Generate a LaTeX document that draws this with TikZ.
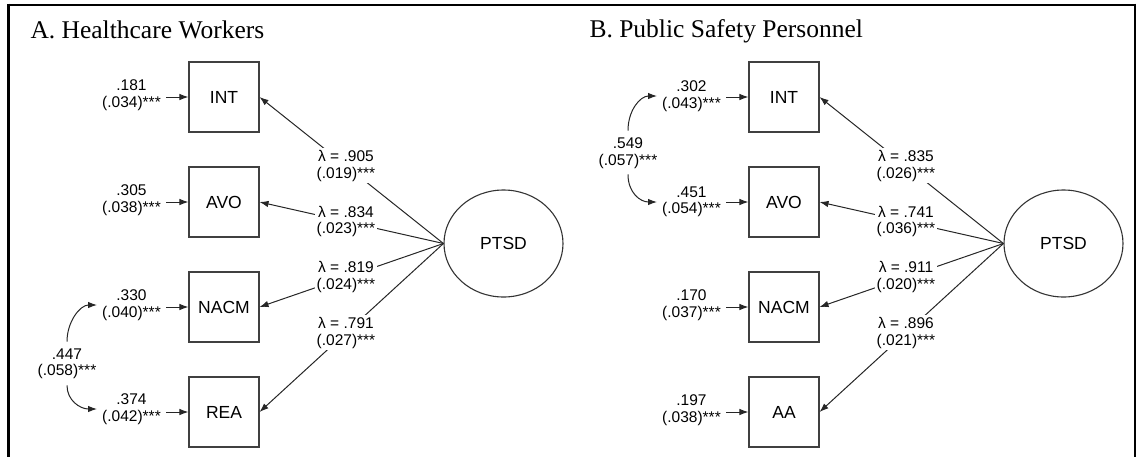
\documentclass[tikz,border=0pt]{standalone}
\usepackage{fontspec}
\setmainfont{Liberation Sans}
\newfontfamily\titlefont{Liberation Serif}
\usetikzlibrary{arrows.meta,shapes.geometric}

\begin{document}
\begin{tikzpicture}[x=1pt,y=-1pt,
  ind/.style={draw=black!75, line width=1.1pt, minimum width=70pt, minimum height=70pt,
    inner sep=0pt, font=\fontsize{17.5}{20}\selectfont},
  lat/.style={draw=black!80, line width=1.1pt, ellipse, minimum width=119pt,
    minimum height=107pt, inner sep=0pt, font=\fontsize{17.5}{20}\selectfont},
  est/.style={align=center, font=\fontsize{15.5}{16.5}\selectfont, inner ysep=1pt, inner xsep=5pt},
  load/.style={align=center, font=\fontsize{15.5}{16.5}\selectfont, fill=white, inner sep=2pt},
  arr/.style={draw=black!85, line width=1pt, -{Latex[length=9pt,width=6.5pt]}},
  ttl/.style={anchor=base west, font=\titlefont\fontsize{25.5}{27}\selectfont},
]
\useasboundingbox (0,0) rectangle (1136,456);

% frame (open at the bottom)
\draw[line width=2pt] (7.5,4.5) -- (1135,4.5);
\draw[line width=2.6pt] (8.5,3.5) -- (8.5,460);
\draw[line width=1.4pt] (1135,3.5) -- (1135,460);

% ---------------- A. Healthcare Workers ----------------
\node[ttl] (titleA) at (27,38) {A. Healthcare Workers};

\node[ind] (AINT)  at (224,97)  {INT};
\node[ind] (AAVO)  at (224,202) {AVO};
\node[ind] (ANACM) at (224,307) {NACM};
\node[ind] (AREA)  at (224,412) {REA};
\node[lat] (APTSD) at (503.5,243.5) {PTSD};

\draw[arr] (APTSD.west) -- node[load, pos=0.53] {λ = .905\\(.019)***} (AINT.east);
\draw[arr] (APTSD.west) -- node[load, pos=0.53] {λ = .834\\(.023)***} (AAVO.east);
\draw[arr] (APTSD.west) -- node[load, pos=0.53] {λ = .819\\(.024)***} (ANACM.east);
\draw[arr] (APTSD.west) -- node[load, pos=0.53] {λ = .791\\(.027)***} (AREA.east);

\node[est, anchor=east] (rAINT)  at (166,95)  {.181\\(.034)***};
\node[est, anchor=east] (rAAVO)  at (166,200) {.305\\(.038)***};
\node[est, anchor=east] (rANACM) at (166,305) {.330\\(.040)***};
\node[est, anchor=east] (rAREA)  at (166,409) {.374\\(.042)***};

\draw[arr] (rAINT.east |- AINT.west) -- (AINT.west);
\draw[arr] (rAAVO.east |- AAVO.west) -- (AAVO.west);
\draw[arr] (rANACM.east |- ANACM.west) -- (ANACM.west);
\draw[arr] (rAREA.east |- AREA.west) -- (AREA.west);

\node[est] (cA) at (67,364) {.447\\(.058)***};
\draw[arr] ([yshift=6pt]cA.north) .. controls +(0,-20) and +(-17,0) .. (rANACM.west);
\draw[arr] ([yshift=-5pt]cA.south) .. controls +(0,15) and +(-17,0) .. (rAREA.west);

% ---------------- B. Public Safety Personnel ----------------
\node[ttl] (titleB) at (586,37) {B. Public Safety Personnel};

\node[ind] (BINT)  at (784,97)  {INT};
\node[ind] (BAVO)  at (784,202) {AVO};
\node[ind] (BNACM) at (784,307) {NACM};
\node[ind] (BAA)   at (784,412) {AA};
\node[lat] (BPTSD) at (1063.5,243.5) {PTSD};

\draw[arr] (BPTSD.west) -- node[load, pos=0.53] {λ = .835\\(.026)***} (BINT.east);
\draw[arr] (BPTSD.west) -- node[load, pos=0.53] {λ = .741\\(.036)***} (BAVO.east);
\draw[arr] (BPTSD.west) -- node[load, pos=0.53] {λ = .911\\(.020)***} (BNACM.east);
\draw[arr] (BPTSD.west) -- node[load, pos=0.53] {λ = .896\\(.021)***} (BAA.east);

\node[est, anchor=east] (rBINT)  at (726,96)  {.302\\(.043)***};
\node[est, anchor=east] (rBAVO)  at (726,202) {.451\\(.054)***};
\node[est, anchor=east] (rBNACM) at (726,305) {.170\\(.037)***};
\node[est, anchor=east] (rBAA)   at (726,410) {.197\\(.038)***};

\draw[arr] (rBINT.east |- BINT.west) -- (BINT.west);
\draw[arr] (rBAVO.east |- BAVO.west) -- (BAVO.west);
\draw[arr] (rBNACM.east |- BNACM.west) -- (BNACM.west);
\draw[arr] (rBAA.east |- BAA.west) -- (BAA.west);

\node[est] (cB) at (628,153) {.549\\(.057)***};
\draw[arr] ([yshift=6pt]cB.north) .. controls +(0,-20) and +(-17,0) .. (rBINT.west);
\draw[arr] ([yshift=-5pt]cB.south) .. controls +(0,18) and +(-17,0) .. (rBAVO.west);
\end{tikzpicture}
\end{document}
